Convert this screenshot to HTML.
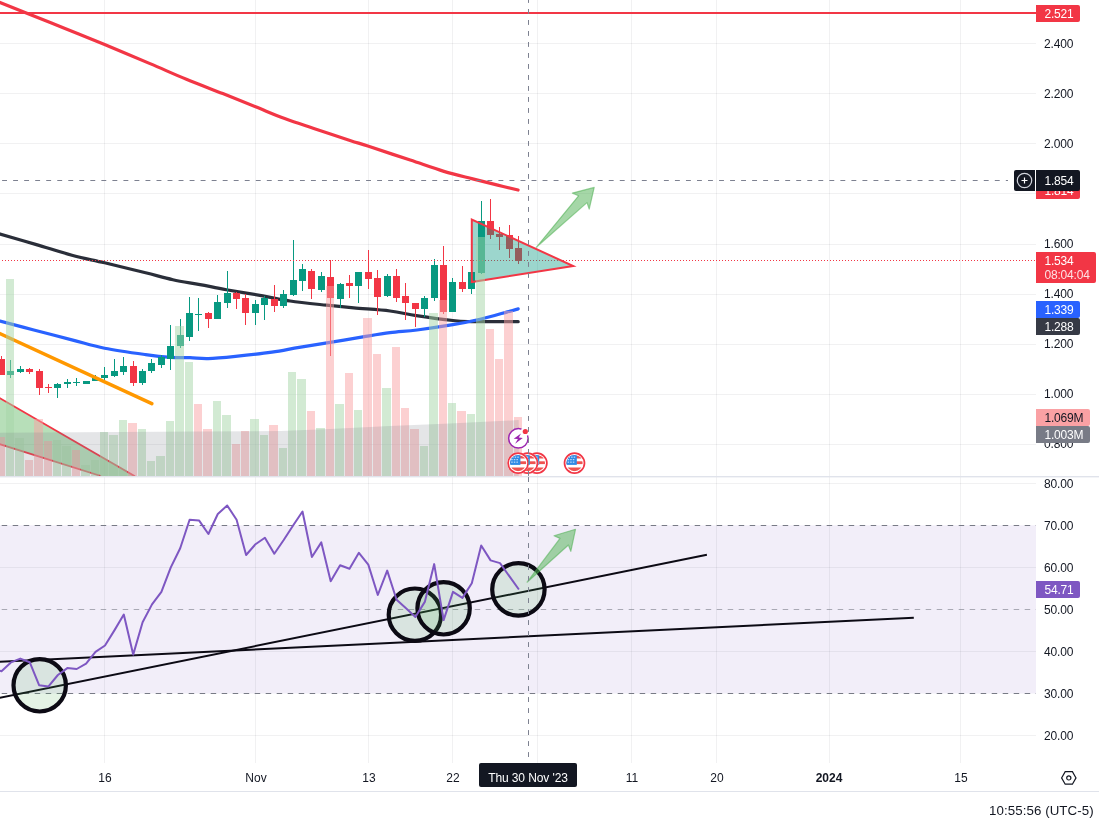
<!DOCTYPE html>
<html><head><meta charset="utf-8"><title>chart</title>
<style>
html,body{margin:0;padding:0;background:#fff;}
body{width:1099px;height:829px;overflow:hidden;position:relative;-webkit-font-smoothing:antialiased;font-family:"Liberation Sans",sans-serif;font-size:12px;color:#131722;}
svg{position:absolute;left:0;top:0;}
.t{position:absolute;white-space:nowrap;line-height:14px;height:14px;}
.t,.box,.tl,#tlab,#clock{will-change:transform;}
.pl{left:1044px;letter-spacing:-0.15px;}
.box{position:absolute;left:1036px;width:44px;height:17px;border-radius:0 2px 2px 0;color:#fff;box-sizing:border-box;padding-left:8.5px;line-height:18.6px;letter-spacing:-0.2px;white-space:nowrap;}
.tl{position:absolute;top:770.6px;width:60px;margin-left:-30px;text-align:center;line-height:14px;white-space:nowrap;}
</style></head><body>
<svg width="1099" height="829" viewBox="0 0 1099 829">
<defs><clipPath id="mp"><rect x="0" y="0" width="1036" height="476"/></clipPath><clipPath id="rp"><rect x="0" y="477" width="1036" height="286"/></clipPath></defs>
<g clip-path="url(#mp)">
<g shape-rendering="crispEdges" stroke="rgba(42,46,57,0.065)" stroke-width="1">
<line x1="0" x2="1036" y1="43.5" y2="43.5"/>
<line x1="0" x2="1036" y1="93.5" y2="93.5"/>
<line x1="0" x2="1036" y1="143.5" y2="143.5"/>
<line x1="0" x2="1036" y1="193.5" y2="193.5"/>
<line x1="0" x2="1036" y1="244.5" y2="244.5"/>
<line x1="0" x2="1036" y1="294.5" y2="294.5"/>
<line x1="0" x2="1036" y1="344.5" y2="344.5"/>
<line x1="0" x2="1036" y1="394.5" y2="394.5"/>
<line x1="0" x2="1036" y1="444.5" y2="444.5"/>
<line x1="104.5" x2="104.5" y1="0" y2="476"/>
<line x1="255.5" x2="255.5" y1="0" y2="476"/>
<line x1="368.5" x2="368.5" y1="0" y2="476"/>
<line x1="452.5" x2="452.5" y1="0" y2="476"/>
<line x1="537.5" x2="537.5" y1="0" y2="476"/>
<line x1="631.5" x2="631.5" y1="0" y2="476"/>
<line x1="716.5" x2="716.5" y1="0" y2="476"/>
<line x1="829.5" x2="829.5" y1="0" y2="476"/>
<line x1="960.5" x2="960.5" y1="0" y2="476"/>
</g>
<polygon points="-5,395.3 133.8,476 99.7,476 -5,442.7" fill="rgba(76,175,80,0.4)"/>
<line x1="-5" y1="395.3" x2="135" y2="476.3" stroke="#f23645" stroke-width="1.8"/>
<line x1="-5" y1="442.7" x2="101" y2="476" stroke="#f23645" stroke-width="1.8"/>
<path d="M-10.00,-1.50 C-8.33,-0.83 -5.83,0.17 0.00,2.50 C5.83,4.83 14.17,8.17 25.00,12.50 C35.83,16.83 51.73,23.17 65.00,28.50 C78.27,33.83 90.43,38.65 104.60,44.50 C118.77,50.35 136.37,57.80 150.00,63.60 C163.63,69.40 174.27,74.30 186.40,79.30 C198.53,84.30 211.27,89.02 222.80,93.60 C234.33,98.18 245.28,102.63 255.60,106.80 C265.92,110.97 275.00,114.98 284.70,118.60 C294.40,122.22 302.92,124.87 313.80,128.50 C324.68,132.13 340.87,137.43 350.00,140.40 C359.13,143.37 358.57,143.02 368.60,146.30 C378.63,149.58 397.65,155.92 410.20,160.10 C422.75,164.28 433.48,168.27 443.90,171.40 C454.32,174.53 463.73,176.62 472.70,178.90 C481.67,181.18 490.13,183.25 497.70,185.10 C505.27,186.95 514.70,189.18 518.10,190.00" fill="none" stroke="#f23645" stroke-width="3.2" stroke-linejoin="round" stroke-linecap="round"/>
<path d="M-5.00,232.50 C-4.17,232.75 -6.90,231.98 0.00,234.00 C6.90,236.02 24.27,241.02 36.40,244.60 C48.53,248.18 61.43,252.47 72.80,255.50 C84.17,258.53 92.47,259.92 104.60,262.80 C116.73,265.68 134.22,269.98 145.60,272.80 C156.98,275.62 163.83,277.73 172.90,279.70 C181.97,281.67 191.08,282.93 200.00,284.60 C208.92,286.27 215.93,287.82 226.40,289.70 C236.87,291.58 252.18,294.02 262.80,295.90 C273.42,297.78 279.48,299.45 290.10,301.00 C300.72,302.55 315.88,304.05 326.50,305.20 C337.12,306.35 343.22,306.93 353.80,307.90 C364.38,308.87 379.57,309.72 390.00,311.00 C400.43,312.28 405.93,314.02 416.40,315.60 C426.87,317.18 443.70,319.50 452.80,320.50 C461.90,321.50 463.97,321.40 471.00,321.60 C478.03,321.80 487.13,321.68 495.00,321.70 C502.87,321.72 514.33,321.70 518.20,321.70" fill="none" stroke="#2a2e39" stroke-width="3.2" stroke-linejoin="round" stroke-linecap="round"/>
<path d="M-5.00,319.80 C-4.17,320.02 -6.47,319.40 0.00,321.10 C6.47,322.80 21.67,326.83 33.80,330.00 C45.93,333.17 61.00,337.07 72.80,340.10 C84.60,343.13 92.47,345.78 104.60,348.20 C116.73,350.62 134.62,353.08 145.60,354.60 C156.58,356.12 163.10,356.78 170.50,357.30 C177.90,357.82 183.72,357.48 190.00,357.70 C196.28,357.92 200.62,358.82 208.20,358.60 C215.78,358.38 224.88,357.47 235.50,356.40 C246.12,355.33 261.28,353.72 271.90,352.20 C282.52,350.68 289.50,348.93 299.20,347.30 C308.90,345.67 319.48,344.13 330.10,342.40 C340.72,340.67 352.92,338.52 362.90,336.90 C372.88,335.28 380.98,333.85 390.00,332.70 C399.02,331.55 406.53,331.33 417.00,330.00 C427.47,328.67 442.28,326.50 452.80,324.70 C463.32,322.90 471.00,321.33 480.10,319.20 C489.20,317.07 501.05,313.62 507.40,311.90 C513.75,310.18 516.40,309.40 518.20,308.90" fill="none" stroke="#2962ff" stroke-width="3.2" stroke-linejoin="round" stroke-linecap="round"/>
<g shape-rendering="crispEdges">
<rect x="1" y="356.0" width="1" height="19.0" fill="#f23645"/>
<rect x="-2" y="359.0" width="7" height="16.0" fill="#f23645"/>
<rect x="10" y="360.0" width="1" height="18.0" fill="#089981"/>
<rect x="7" y="371.0" width="7" height="4.0" fill="#089981"/>
<rect x="20" y="366.0" width="1" height="7.0" fill="#089981"/>
<rect x="17" y="369.0" width="7" height="3.0" fill="#089981"/>
<rect x="29" y="368.0" width="1" height="6.0" fill="#f23645"/>
<rect x="26" y="369.0" width="7" height="3.0" fill="#f23645"/>
<rect x="39" y="369.0" width="1" height="26.0" fill="#f23645"/>
<rect x="36" y="371.0" width="7" height="17.0" fill="#f23645"/>
<rect x="48" y="384.0" width="1" height="9.0" fill="#f23645"/>
<rect x="45" y="387.0" width="7" height="1.0" fill="#f23645"/>
<rect x="57" y="383.0" width="1" height="15.0" fill="#089981"/>
<rect x="54" y="384.0" width="7" height="4.0" fill="#089981"/>
<rect x="67" y="379.0" width="1" height="9.0" fill="#089981"/>
<rect x="64" y="382.0" width="7" height="2.0" fill="#089981"/>
<rect x="76" y="378.0" width="1" height="8.0" fill="#089981"/>
<rect x="73" y="382.0" width="7" height="1.0" fill="#089981"/>
<rect x="86" y="381.0" width="1" height="3.0" fill="#089981"/>
<rect x="83" y="381.0" width="7" height="3.0" fill="#089981"/>
<rect x="95" y="375.0" width="1" height="6.0" fill="#089981"/>
<rect x="92" y="378.0" width="7" height="3.0" fill="#089981"/>
<rect x="104" y="367.0" width="1" height="13.0" fill="#089981"/>
<rect x="101" y="375.0" width="7" height="3.0" fill="#089981"/>
<rect x="114" y="359.0" width="1" height="18.0" fill="#089981"/>
<rect x="111" y="371.0" width="7" height="5.0" fill="#089981"/>
<rect x="123" y="357.0" width="1" height="18.0" fill="#089981"/>
<rect x="120" y="366.0" width="7" height="6.0" fill="#089981"/>
<rect x="133" y="361.0" width="1" height="25.0" fill="#f23645"/>
<rect x="130" y="366.0" width="7" height="17.0" fill="#f23645"/>
<rect x="142" y="369.0" width="1" height="16.0" fill="#089981"/>
<rect x="139" y="371.0" width="7" height="12.0" fill="#089981"/>
<rect x="151" y="359.0" width="1" height="14.0" fill="#089981"/>
<rect x="148" y="363.0" width="7" height="8.0" fill="#089981"/>
<rect x="161" y="355.0" width="1" height="13.0" fill="#089981"/>
<rect x="158" y="357.0" width="7" height="8.0" fill="#089981"/>
<rect x="170" y="325.0" width="1" height="45.0" fill="#089981"/>
<rect x="167" y="346.0" width="7" height="13.0" fill="#089981"/>
<rect x="180" y="319.0" width="1" height="29.0" fill="#089981"/>
<rect x="177" y="335.0" width="7" height="11.0" fill="#089981"/>
<rect x="189" y="297.0" width="1" height="44.0" fill="#089981"/>
<rect x="186" y="313.0" width="7" height="24.0" fill="#089981"/>
<rect x="198" y="298.0" width="1" height="33.0" fill="#089981"/>
<rect x="195" y="314.0" width="7" height="1.0" fill="#089981"/>
<rect x="208" y="312.0" width="1" height="16.0" fill="#f23645"/>
<rect x="205" y="313.0" width="7" height="6.0" fill="#f23645"/>
<rect x="217" y="295.0" width="1" height="24.0" fill="#089981"/>
<rect x="214" y="302.0" width="7" height="17.0" fill="#089981"/>
<rect x="227" y="271.0" width="1" height="37.0" fill="#089981"/>
<rect x="224" y="293.0" width="7" height="10.0" fill="#089981"/>
<rect x="236" y="292.0" width="1" height="17.0" fill="#f23645"/>
<rect x="233" y="293.0" width="7" height="6.0" fill="#f23645"/>
<rect x="245" y="294.0" width="1" height="31.0" fill="#f23645"/>
<rect x="242" y="298.0" width="7" height="15.0" fill="#f23645"/>
<rect x="255" y="300.0" width="1" height="25.0" fill="#089981"/>
<rect x="252" y="304.0" width="7" height="9.0" fill="#089981"/>
<rect x="264" y="296.0" width="1" height="24.0" fill="#089981"/>
<rect x="261" y="298.0" width="7" height="7.0" fill="#089981"/>
<rect x="274" y="285.0" width="1" height="27.0" fill="#f23645"/>
<rect x="271" y="299.0" width="7" height="7.0" fill="#f23645"/>
<rect x="283" y="290.0" width="1" height="18.0" fill="#089981"/>
<rect x="280" y="294.0" width="7" height="12.0" fill="#089981"/>
<rect x="293" y="240.0" width="1" height="56.0" fill="#089981"/>
<rect x="290" y="280.0" width="7" height="15.0" fill="#089981"/>
<rect x="302" y="264.0" width="1" height="27.0" fill="#089981"/>
<rect x="299" y="269.0" width="7" height="12.0" fill="#089981"/>
<rect x="311" y="269.0" width="1" height="30.0" fill="#f23645"/>
<rect x="308" y="271.0" width="7" height="18.0" fill="#f23645"/>
<rect x="321" y="272.0" width="1" height="20.0" fill="#089981"/>
<rect x="318" y="276.0" width="7" height="14.0" fill="#089981"/>
<rect x="330" y="260.0" width="1" height="96.0" fill="#f23645"/>
<rect x="327" y="277.0" width="7" height="21.0" fill="#f23645"/>
<rect x="340" y="283.0" width="1" height="25.0" fill="#089981"/>
<rect x="337" y="284.0" width="7" height="15.0" fill="#089981"/>
<rect x="349" y="275.0" width="1" height="23.0" fill="#f23645"/>
<rect x="346" y="283.0" width="7" height="3.0" fill="#f23645"/>
<rect x="358" y="272.0" width="1" height="31.0" fill="#089981"/>
<rect x="355" y="272.0" width="7" height="14.0" fill="#089981"/>
<rect x="368" y="250.0" width="1" height="39.0" fill="#f23645"/>
<rect x="365" y="272.0" width="7" height="7.0" fill="#f23645"/>
<rect x="377" y="270.0" width="1" height="45.0" fill="#f23645"/>
<rect x="374" y="278.0" width="7" height="19.0" fill="#f23645"/>
<rect x="387" y="274.0" width="1" height="23.0" fill="#089981"/>
<rect x="384" y="276.0" width="7" height="20.0" fill="#089981"/>
<rect x="396" y="269.0" width="1" height="33.0" fill="#f23645"/>
<rect x="393" y="276.0" width="7" height="22.0" fill="#f23645"/>
<rect x="405" y="283.0" width="1" height="37.0" fill="#f23645"/>
<rect x="402" y="296.0" width="7" height="7.0" fill="#f23645"/>
<rect x="415" y="303.0" width="1" height="24.0" fill="#f23645"/>
<rect x="412" y="303.0" width="7" height="6.0" fill="#f23645"/>
<rect x="424" y="296.0" width="1" height="21.0" fill="#089981"/>
<rect x="421" y="298.0" width="7" height="11.0" fill="#089981"/>
<rect x="434" y="259.0" width="1" height="42.0" fill="#089981"/>
<rect x="431" y="265.0" width="7" height="33.0" fill="#089981"/>
<rect x="443" y="246.0" width="1" height="68.0" fill="#f23645"/>
<rect x="440" y="265.0" width="7" height="47.0" fill="#f23645"/>
<rect x="452" y="278.0" width="1" height="34.0" fill="#089981"/>
<rect x="449" y="282.0" width="7" height="30.0" fill="#089981"/>
<rect x="462" y="266.0" width="1" height="26.0" fill="#f23645"/>
<rect x="459" y="282.0" width="7" height="7.0" fill="#f23645"/>
<rect x="471" y="272.0" width="1" height="22.0" fill="#089981"/>
<rect x="468" y="272.0" width="7" height="17.0" fill="#089981"/>
<rect x="481" y="201.0" width="1" height="73.0" fill="#089981"/>
<rect x="478" y="221.0" width="7" height="52.0" fill="#089981"/>
<rect x="490" y="199.0" width="1" height="40.0" fill="#f23645"/>
<rect x="487" y="221.0" width="7" height="14.0" fill="#f23645"/>
<rect x="499" y="227.0" width="1" height="23.0" fill="#f23645"/>
<rect x="496" y="234.0" width="7" height="3.0" fill="#f23645"/>
<rect x="509" y="225.0" width="1" height="33.0" fill="#f23645"/>
<rect x="506" y="235.0" width="7" height="14.0" fill="#f23645"/>
<rect x="518" y="236.0" width="1" height="28.0" fill="#f23645"/>
<rect x="515" y="248.0" width="7" height="13.0" fill="#f23645"/>
</g>
<line x1="-1" x2="1036" y1="260.5" y2="260.5" stroke="#f23645" stroke-width="1" stroke-dasharray="1 2" shape-rendering="crispEdges"/>
<line x1="0" x2="1036" y1="13" y2="13" stroke="#f23645" stroke-width="2" shape-rendering="crispEdges"/>
<line x1="-10" y1="329.0" x2="151.8" y2="403.7" stroke="#ff9800" stroke-width="3.5" stroke-linecap="round"/>
<polygon points="471.8,219.5 471.8,282.1 573.2,266" fill="rgba(8,153,129,0.4)" stroke="#f23645" stroke-width="2" stroke-linejoin="miter"/>
<polygon points="536.3,247.3 578.6,195.8 572.4,193.1 594.2,187.4 589.2,209.1 587,202.6" fill="rgba(76,175,80,0.5)" stroke="rgba(76,175,80,0.55)" stroke-width="1.2" stroke-linejoin="round"/>
<g shape-rendering="crispEdges">
<rect x="-4" y="437" width="9" height="39" fill="rgba(250,161,164,0.5)"/>
<rect x="6" y="279" width="8" height="197" fill="rgba(165,214,167,0.5)"/>
<rect x="15" y="438" width="9" height="38" fill="rgba(165,214,167,0.5)"/>
<rect x="25" y="460" width="8" height="16" fill="rgba(250,161,164,0.5)"/>
<rect x="34" y="419" width="9" height="57" fill="rgba(250,161,164,0.5)"/>
<rect x="44" y="441" width="8" height="35" fill="rgba(250,161,164,0.5)"/>
<rect x="53" y="440" width="8" height="36" fill="rgba(165,214,167,0.5)"/>
<rect x="62" y="446" width="9" height="30" fill="rgba(165,214,167,0.5)"/>
<rect x="72" y="450" width="8" height="26" fill="rgba(250,161,164,0.5)"/>
<rect x="81" y="465" width="9" height="11" fill="rgba(165,214,167,0.5)"/>
<rect x="91" y="460" width="8" height="16" fill="rgba(165,214,167,0.5)"/>
<rect x="100" y="432" width="8" height="44" fill="rgba(165,214,167,0.5)"/>
<rect x="109" y="435" width="9" height="41" fill="rgba(165,214,167,0.5)"/>
<rect x="119" y="420" width="8" height="56" fill="rgba(165,214,167,0.5)"/>
<rect x="128" y="423" width="9" height="53" fill="rgba(250,161,164,0.5)"/>
<rect x="138" y="429" width="8" height="47" fill="rgba(165,214,167,0.5)"/>
<rect x="147" y="461" width="8" height="15" fill="rgba(165,214,167,0.5)"/>
<rect x="156" y="456" width="9" height="20" fill="rgba(165,214,167,0.5)"/>
<rect x="166" y="421" width="8" height="55" fill="rgba(165,214,167,0.5)"/>
<rect x="175" y="326" width="9" height="150" fill="rgba(165,214,167,0.5)"/>
<rect x="185" y="362" width="8" height="114" fill="rgba(165,214,167,0.5)"/>
<rect x="194" y="404" width="8" height="72" fill="rgba(250,161,164,0.5)"/>
<rect x="203" y="429" width="9" height="47" fill="rgba(250,161,164,0.5)"/>
<rect x="213" y="401" width="8" height="75" fill="rgba(165,214,167,0.5)"/>
<rect x="222" y="415" width="9" height="61" fill="rgba(165,214,167,0.5)"/>
<rect x="232" y="444" width="8" height="32" fill="rgba(250,161,164,0.5)"/>
<rect x="241" y="431" width="8" height="45" fill="rgba(250,161,164,0.5)"/>
<rect x="250" y="419" width="9" height="57" fill="rgba(165,214,167,0.5)"/>
<rect x="260" y="435" width="8" height="41" fill="rgba(165,214,167,0.5)"/>
<rect x="269" y="425" width="9" height="51" fill="rgba(250,161,164,0.5)"/>
<rect x="279" y="448" width="8" height="28" fill="rgba(165,214,167,0.5)"/>
<rect x="288" y="372" width="8" height="104" fill="rgba(165,214,167,0.5)"/>
<rect x="297" y="379" width="9" height="97" fill="rgba(165,214,167,0.5)"/>
<rect x="307" y="411" width="8" height="65" fill="rgba(250,161,164,0.5)"/>
<rect x="316" y="428" width="9" height="48" fill="rgba(165,214,167,0.5)"/>
<rect x="326" y="286" width="8" height="190" fill="rgba(250,161,164,0.5)"/>
<rect x="335" y="404" width="9" height="72" fill="rgba(165,214,167,0.5)"/>
<rect x="345" y="373" width="8" height="103" fill="rgba(250,161,164,0.5)"/>
<rect x="354" y="410" width="8" height="66" fill="rgba(165,214,167,0.5)"/>
<rect x="363" y="318" width="9" height="158" fill="rgba(250,161,164,0.5)"/>
<rect x="373" y="354" width="8" height="122" fill="rgba(250,161,164,0.5)"/>
<rect x="382" y="388" width="9" height="88" fill="rgba(165,214,167,0.5)"/>
<rect x="392" y="347" width="8" height="129" fill="rgba(250,161,164,0.5)"/>
<rect x="401" y="408" width="8" height="68" fill="rgba(250,161,164,0.5)"/>
<rect x="410" y="429" width="9" height="47" fill="rgba(250,161,164,0.5)"/>
<rect x="420" y="446" width="8" height="30" fill="rgba(165,214,167,0.5)"/>
<rect x="429" y="313" width="9" height="163" fill="rgba(165,214,167,0.5)"/>
<rect x="439" y="300" width="8" height="176" fill="rgba(250,161,164,0.5)"/>
<rect x="448" y="403" width="8" height="73" fill="rgba(165,214,167,0.5)"/>
<rect x="457" y="411" width="9" height="65" fill="rgba(250,161,164,0.5)"/>
<rect x="467" y="414" width="8" height="62" fill="rgba(165,214,167,0.5)"/>
<rect x="476" y="237" width="9" height="239" fill="rgba(165,214,167,0.5)"/>
<rect x="486" y="329" width="8" height="147" fill="rgba(250,161,164,0.5)"/>
<rect x="495" y="359" width="8" height="117" fill="rgba(250,161,164,0.5)"/>
<rect x="504" y="311" width="9" height="165" fill="rgba(250,161,164,0.5)"/>
<rect x="514" y="417" width="8" height="59" fill="rgba(250,161,164,0.5)"/>
</g>
<polygon points="-5.0,432.8 0.0,432.8 200.0,431.5 281.0,431.0 330.0,429.0 390.0,426.1 450.0,423.5 518.7,420.1 518.7,476 -5,476" fill="rgba(120,123,134,0.2)"/>
</g>
<g clip-path="url(#rp)">
<rect x="0" y="525.3" width="1036" height="168.2" fill="rgba(126,87,194,0.1)"/>
<g shape-rendering="crispEdges" stroke="rgba(42,46,57,0.065)" stroke-width="1">
<line x1="0" x2="1036" y1="483.5" y2="483.5"/>
<line x1="0" x2="1036" y1="567.5" y2="567.5"/>
<line x1="0" x2="1036" y1="651.5" y2="651.5"/>
<line x1="0" x2="1036" y1="735.5" y2="735.5"/>
<line x1="104.5" x2="104.5" y1="477" y2="762.5"/>
<line x1="255.5" x2="255.5" y1="477" y2="762.5"/>
<line x1="368.5" x2="368.5" y1="477" y2="762.5"/>
<line x1="452.5" x2="452.5" y1="477" y2="762.5"/>
<line x1="537.5" x2="537.5" y1="477" y2="762.5"/>
<line x1="631.5" x2="631.5" y1="477" y2="762.5"/>
<line x1="716.5" x2="716.5" y1="477" y2="762.5"/>
<line x1="829.5" x2="829.5" y1="477" y2="762.5"/>
<line x1="960.5" x2="960.5" y1="477" y2="762.5"/>
</g>
<line x1="0" x2="1036" y1="525.5" y2="525.5" stroke="#787b86" stroke-width="1" stroke-dasharray="5.5 5.5" stroke-dashoffset="-1.7"/>
<line x1="0" x2="1036" y1="609.5" y2="609.5" stroke="#787b86" stroke-opacity="0.6" stroke-width="1" stroke-dasharray="5.5 5.5" stroke-dashoffset="-1.7"/>
<line x1="0" x2="1036" y1="693.5" y2="693.5" stroke="#787b86" stroke-width="1" stroke-dasharray="5.5 5.5" stroke-dashoffset="-1.7"/>
<line x1="-5" y1="662.1" x2="913.8" y2="617.7" stroke="#0c0a14" stroke-width="2"/>
<line x1="-5" y1="698.7" x2="706.9" y2="554.7" stroke="#0c0a14" stroke-width="2"/>
<circle cx="39.7" cy="685.3" r="26.2" fill="rgba(76,175,80,0.15)" stroke="#0c0a14" stroke-width="4.2"/>
<circle cx="414.9" cy="614.7" r="26.2" fill="rgba(76,175,80,0.15)" stroke="#0c0a14" stroke-width="4.2"/>
<circle cx="443.6" cy="608.3" r="26.2" fill="rgba(76,175,80,0.15)" stroke="#0c0a14" stroke-width="4.2"/>
<circle cx="518.4" cy="589.4" r="26.2" fill="rgba(76,175,80,0.15)" stroke="#0c0a14" stroke-width="4.2"/>
<polyline points="-7.9,668.0 1.5,671.3 10.9,662.4 20.3,658.6 29.7,662.2 39.1,685.2 48.5,686.4 57.9,675.0 67.3,668.1 76.7,669.0 86.1,663.7 95.5,651.9 105.0,645.5 114.4,630.4 123.8,614.6 133.2,654.6 142.6,622.2 152.0,604.4 161.4,591.9 170.8,567.4 180.2,548.2 189.6,519.7 199.0,520.4 208.4,534.0 217.8,514.0 227.2,505.5 236.6,519.7 246.1,555.0 255.5,544.2 264.9,537.7 274.3,553.7 283.7,540.0 293.1,525.5 302.5,511.5 311.9,557.0 321.3,542.4 330.7,581.2 340.1,565.3 349.5,568.8 358.9,552.8 368.3,564.6 377.8,595.0 387.2,570.6 396.6,599.7 406.0,608.3 415.4,617.0 424.8,601.9 434.2,564.1 443.6,620.1 453.0,591.9 462.4,597.9 471.8,583.3 481.2,545.5 490.6,560.4 500.0,563.1 509.5,576.4 518.9,589.5" fill="none" stroke="#7e57c2" stroke-width="2" stroke-linejoin="round"/>
<polygon points="527.1,582.2 560,538.4 554,535.8 575.5,529.3 570.8,551.3 568.4,545" fill="rgba(76,175,80,0.5)" stroke="rgba(76,175,80,0.55)" stroke-width="1.2" stroke-linejoin="round"/>
</g>
<rect x="0" y="476" width="1099" height="1.4" fill="#e0e3eb"/>
<rect x="0" y="791" width="1099" height="1" fill="#e0e3eb"/>
<g transform="translate(574.5,463.1)">
<circle r="10.9" fill="#fff"/>
<circle r="10" fill="#fff" stroke="#f23645" stroke-width="1.7"/>
<clipPath id="fc0"><circle r="8.1"/></clipPath>
<g clip-path="url(#fc0)">
<rect x="-9" y="-9" width="18" height="18" fill="#fff"/>
<rect x="-9" y="-7.5" width="18" height="2.9" fill="#ef5350"/>
<rect x="-9" y="-1.8" width="18" height="2.8" fill="#ef5350"/>
<rect x="-9" y="4.4" width="18" height="4" fill="#ef5350"/>
<rect x="-9" y="-9" width="11.3" height="10.8" fill="#2f8be6"/>
<g fill="#cfe3f8">
<rect x="-6.0" y="-6.5" width="1.5" height="1.1"/><rect x="-3.4" y="-6.5" width="1.5" height="1.1"/><rect x="-0.8" y="-6.5" width="1.5" height="1.1"/>
<rect x="-6.9" y="-4.0" width="1.5" height="1.1"/><rect x="-4.3" y="-4.0" width="1.5" height="1.1"/><rect x="-1.7" y="-4.0" width="1.5" height="1.1"/>
<rect x="-6.9" y="-1.5" width="1.5" height="1.1"/><rect x="-4.3" y="-1.5" width="1.5" height="1.1"/><rect x="-1.7" y="-1.5" width="1.5" height="1.1"/>
</g></g></g><g transform="translate(536.9,463.1)">
<circle r="10.9" fill="#fff"/>
<circle r="10" fill="#fff" stroke="#f23645" stroke-width="1.7"/>
<clipPath id="fc1"><circle r="8.1"/></clipPath>
<g clip-path="url(#fc1)">
<rect x="-9" y="-9" width="18" height="18" fill="#fff"/>
<rect x="-9" y="-7.5" width="18" height="2.9" fill="#ef5350"/>
<rect x="-9" y="-1.8" width="18" height="2.8" fill="#ef5350"/>
<rect x="-9" y="4.4" width="18" height="4" fill="#ef5350"/>
<rect x="-9" y="-9" width="11.3" height="10.8" fill="#2f8be6"/>
<g fill="#cfe3f8">
<rect x="-6.0" y="-6.5" width="1.5" height="1.1"/><rect x="-3.4" y="-6.5" width="1.5" height="1.1"/><rect x="-0.8" y="-6.5" width="1.5" height="1.1"/>
<rect x="-6.9" y="-4.0" width="1.5" height="1.1"/><rect x="-4.3" y="-4.0" width="1.5" height="1.1"/><rect x="-1.7" y="-4.0" width="1.5" height="1.1"/>
<rect x="-6.9" y="-1.5" width="1.5" height="1.1"/><rect x="-4.3" y="-1.5" width="1.5" height="1.1"/><rect x="-1.7" y="-1.5" width="1.5" height="1.1"/>
</g></g></g><g transform="translate(527.5,463.1)">
<circle r="10.9" fill="#fff"/>
<circle r="10" fill="#fff" stroke="#f23645" stroke-width="1.7"/>
<clipPath id="fc2"><circle r="8.1"/></clipPath>
<g clip-path="url(#fc2)">
<rect x="-9" y="-9" width="18" height="18" fill="#fff"/>
<rect x="-9" y="-7.5" width="18" height="2.9" fill="#ef5350"/>
<rect x="-9" y="-1.8" width="18" height="2.8" fill="#ef5350"/>
<rect x="-9" y="4.4" width="18" height="4" fill="#ef5350"/>
<rect x="-9" y="-9" width="11.3" height="10.8" fill="#2f8be6"/>
<g fill="#cfe3f8">
<rect x="-6.0" y="-6.5" width="1.5" height="1.1"/><rect x="-3.4" y="-6.5" width="1.5" height="1.1"/><rect x="-0.8" y="-6.5" width="1.5" height="1.1"/>
<rect x="-6.9" y="-4.0" width="1.5" height="1.1"/><rect x="-4.3" y="-4.0" width="1.5" height="1.1"/><rect x="-1.7" y="-4.0" width="1.5" height="1.1"/>
<rect x="-6.9" y="-1.5" width="1.5" height="1.1"/><rect x="-4.3" y="-1.5" width="1.5" height="1.1"/><rect x="-1.7" y="-1.5" width="1.5" height="1.1"/>
</g></g></g><g transform="translate(518.1,463.1)">
<circle r="10.9" fill="#fff"/>
<circle r="10" fill="#fff" stroke="#f23645" stroke-width="1.7"/>
<clipPath id="fc3"><circle r="8.1"/></clipPath>
<g clip-path="url(#fc3)">
<rect x="-9" y="-9" width="18" height="18" fill="#fff"/>
<rect x="-9" y="-7.5" width="18" height="2.9" fill="#ef5350"/>
<rect x="-9" y="-1.8" width="18" height="2.8" fill="#ef5350"/>
<rect x="-9" y="4.4" width="18" height="4" fill="#ef5350"/>
<rect x="-9" y="-9" width="11.3" height="10.8" fill="#2f8be6"/>
<g fill="#cfe3f8">
<rect x="-6.0" y="-6.5" width="1.5" height="1.1"/><rect x="-3.4" y="-6.5" width="1.5" height="1.1"/><rect x="-0.8" y="-6.5" width="1.5" height="1.1"/>
<rect x="-6.9" y="-4.0" width="1.5" height="1.1"/><rect x="-4.3" y="-4.0" width="1.5" height="1.1"/><rect x="-1.7" y="-4.0" width="1.5" height="1.1"/>
<rect x="-6.9" y="-1.5" width="1.5" height="1.1"/><rect x="-4.3" y="-1.5" width="1.5" height="1.1"/><rect x="-1.7" y="-1.5" width="1.5" height="1.1"/>
</g></g></g><g transform="translate(518.4,438.3)">
<circle r="9.75" fill="#fff" stroke="#9c27b0" stroke-width="1.5"/>
<circle cx="6.9" cy="-6.8" r="4.5" fill="#fff"/>
<circle cx="6.9" cy="-6.8" r="2.6" fill="#f23645"/>
<path d="M2.6,-4.9 L-4.7,0.5 L-0.5,0.7 L-3.3,5.4 L4.4,-0.4 L0.4,-0.7 Z" fill="#9c27b0"/>
</g>
<line x1="0" x2="1008" y1="180.5" y2="180.5" stroke="#7d8190" stroke-width="1" stroke-dasharray="4.9 6.13" stroke-dashoffset="-2.1"/>
<line x1="528.5" x2="528.5" y1="0" y2="476" stroke="#7d8190" stroke-width="1" stroke-dasharray="4.9 6.1" stroke-dashoffset="2"/>
<line x1="528.5" x2="528.5" y1="477.1" y2="762.5" stroke="#7d8190" stroke-width="1" stroke-dasharray="4.9 6.1"/>
<g transform="translate(1068.8,777.9)" fill="none" stroke="#131722" stroke-width="1.2"><path d="M-3.6,-6.3 L3.6,-6.3 L7.2,0 L3.6,6.3 L-3.6,6.3 L-7.2,0 Z"/><circle r="2.1"/></g>
</svg>

<div class="t pl" style="top:36.5px">2.400</div>
<div class="t pl" style="top:86.5px">2.200</div>
<div class="t pl" style="top:136.8px">2.000</div>
<div class="t pl" style="top:236.8px">1.600</div>
<div class="t pl" style="top:286.5px">1.400</div>
<div class="t pl" style="top:337.4px">1.200</div>
<div class="t pl" style="top:386.8px">1.000</div>
<div class="t pl" style="top:437.2px">0.800</div>
<div class="t pl" style="top:476.5px">80.00</div>
<div class="t pl" style="top:518.5px">70.00</div>
<div class="t pl" style="top:560.5px">60.00</div>
<div class="t pl" style="top:602.5px">50.00</div>
<div class="t pl" style="top:644.5px">40.00</div>
<div class="t pl" style="top:686.5px">30.00</div>
<div class="t pl" style="top:728.5px">20.00</div>

<div class="box" style="top:5px;background:#f23645">2.521</div>
<div class="box" style="top:181.5px;background:#f23645">1.814</div>
<div class="box" style="top:252px;height:31px;width:60px;background:#f23645;line-height:14px;padding-top:1.5px">1.534<br><span style="opacity:.85">08:04:04</span></div>
<div class="box" style="top:301px;background:#2962ff">1.339</div>
<div class="box" style="top:318px;background:#363a45">1.288</div>
<div class="box" style="top:409px;width:54px;background:#faa1a4;color:#131722">1.069M</div>
<div class="box" style="top:426px;width:54px;background:#787b86">1.003M</div>
<div class="box" style="top:581px;background:#7e57c2">54.71</div>

<div style="position:absolute;left:1014px;top:170px;width:21px;height:21px;background:#131722;border-radius:2px 0 0 2px"></div>
<svg width="21" height="21" style="left:1014px;top:170px" viewBox="0 0 21 21"><circle cx="10.5" cy="10.5" r="7.2" fill="none" stroke="#d1d4dc" stroke-width="1.2"/><path d="M7.5,10.5H13.5M10.5,7.5V13.5" stroke="#fff" stroke-width="1.2"/></svg>
<div class="box" style="top:170px;height:21px;line-height:22px;background:#131722;border-radius:0 2px 2px 0">1.854</div>

<div class="tl" style="left:104.5px">16</div>
<div class="tl" style="left:255.5px">Nov</div>
<div class="tl" style="left:368.5px">13</div>
<div class="tl" style="left:452.5px">22</div>
<div class="tl" style="left:631.5px">11</div>
<div class="tl" style="left:716.5px">20</div>
<div class="tl" style="left:829px;font-weight:bold">2024</div>
<div class="tl" style="left:960.5px">15</div>
<div style="position:absolute;left:479px;top:763px;width:98px;height:23.5px;background:#131722;border-radius:2px;color:#fff;text-align:center;line-height:14px;padding-top:7.6px;box-sizing:border-box;white-space:nowrap;letter-spacing:-0.1px" id="tlab">Thu 30 Nov '23</div>
<div style="position:absolute;right:4.8px;top:802px;font-size:13.3px;line-height:18px;white-space:nowrap;letter-spacing:0.08px" id="clock">10:55:56 (UTC-5)</div>
</body></html>
